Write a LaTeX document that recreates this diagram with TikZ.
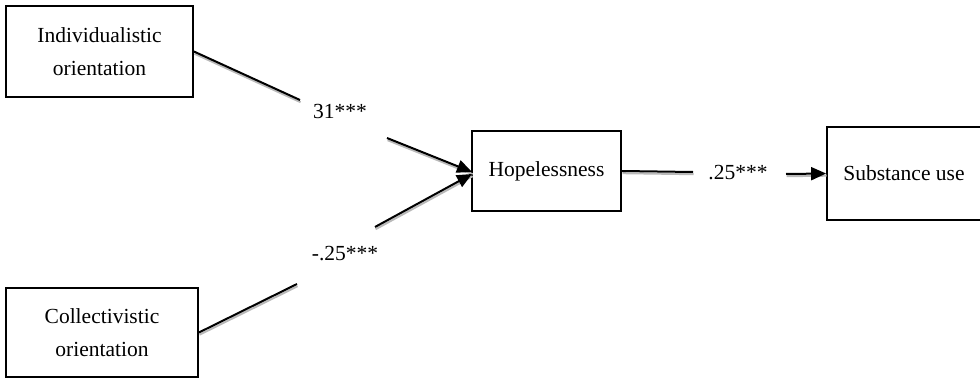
\documentclass[tikz,border=0pt]{standalone}
\usepackage{fontspec}
\setmainfont{Liberation Serif}
\usetikzlibrary{arrows.meta}
\begin{document}
\begin{tikzpicture}[x=1pt,y=-1pt,
  box/.style={draw,line width=1.8pt,inner sep=0pt,font=\fontsize{21.5}{33}\selectfont,align=center},
  lbl/.style={font=\fontsize{21.5}{25}\selectfont,inner sep=1pt},
  path/.style={line width=2pt,black},
  shadow/.style={line width=2pt,gray!55,transform canvas={xshift=0.6pt,yshift=-2.2pt}},
  tip/.style={-{Triangle[length=15pt,width=13pt]}}]
\useasboundingbox (0,0) rectangle (980,380);
\node[box,minimum width=187pt,minimum height=91pt] (ind) at (99.5,51.5) {Individualistic\\orientation};
\node[box,minimum width=192pt,minimum height=89pt] (col) at (102,332.5) {Collectivistic\\orientation};
\node[box,minimum width=149pt,minimum height=80pt,text depth=3pt] (hop) at (546.5,171) {Hopelessness};
\node[box,minimum width=154pt,minimum height=93pt] (sub) at (904,173.5) {Substance use};
\node[lbl] (l1) at (340,111) {31***};
\node[lbl] (l2) at (345,254) {-.25***};
\node[lbl] (l3) at (738,173) {.25***};
\coordinate (a1) at (300,100);
\coordinate (a2) at (387,138);
\coordinate (b1) at (297,284);
\coordinate (b2) at (375,227);
\coordinate (c1) at (693,172);
\coordinate (c2) at (786,174);
\coordinate (h1) at (472,172);
\coordinate (h2) at (472,174);
% shadows
\draw[shadow] (ind.east) -- (a1);
\draw[shadow] (a2) -- (h1);
\draw[shadow] (col.east) -- (b1);
\draw[shadow] (b2) -- (h2);
\draw[shadow] (hop.east) -- (c1);
\draw[shadow] (c2) -- (sub.west);
% lines
\draw[path] (ind.east) -- (a1);
\draw[path,tip] (a2) -- (h1);
\draw[path] (col.east) -- (b1);
\draw[path,tip] (b2) -- (h2);
\draw[path] (hop.east) -- (c1);
\draw[path,tip] (c2) -- (sub.west);
\end{tikzpicture}
\end{document}
